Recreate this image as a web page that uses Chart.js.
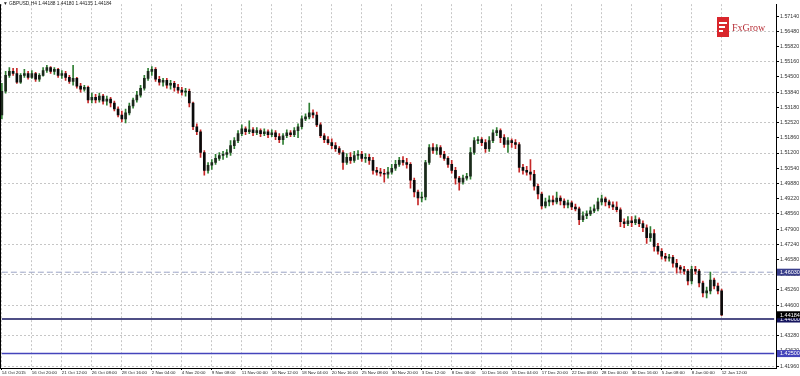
<!DOCTYPE html>
<html>
<head>
<meta charset="utf-8">
<script src="https://cdn.jsdelivr.net/npm/chart.js@4.4.0/dist/chart.umd.min.js"></script>
<style>
html,body{margin:0;padding:0;background:#fff;overflow:hidden}
#wrap{position:relative;width:800px;height:376px}
canvas{display:block}
#title{position:absolute;left:3px;top:1px;font:4.8px 'Liberation Sans',Arial,sans-serif;color:#222;white-space:nowrap}
#logoBox{position:absolute;left:717px;top:17px;width:12px;height:20px;background:#d9262c}
#logoBox i{position:absolute;left:2px;height:2px;background:#fff;display:block}
#logoText{position:absolute;left:732px;top:22px;font:10px 'Liberation Serif','DejaVu Serif',serif;color:#b8323a;white-space:nowrap}
</style>
</head>
<body>
<div id="wrap">
<canvas id="c" width="800" height="376"></canvas>
<div id="title">&#9660; GBPUSD,H4 1.44188 1.44180 1.44135 1.44184</div>
<div id="logoBox"><i style="top:5px;width:8px"></i><i style="top:9px;width:6px"></i><i style="top:13px;width:4px"></i></div>
<div id="logoText">FxGrow</div>
</div>
<script>
// ---- data ----
const tickLabels = ["14 Oct 2015","16 Oct 20:00","21 Oct 12:00","26 Oct 08:00","28 Oct 16:00","2 Nov 04:00","4 Nov 20:00","9 Nov 08:00","11 Nov 00:00","16 Nov 12:00","18 Nov 04:00","20 Nov 16:00","25 Nov 08:00","30 Nov 20:00","3 Dec 12:00","8 Dec 00:00","10 Dec 16:00","15 Dec 04:00","17 Dec 20:00","22 Dec 08:00","28 Dec 00:00","30 Dec 16:00","5 Jan 08:00","8 Jan 00:00","12 Jan 12:00"];

const yTicks = [1.5714,1.5648,1.5582,1.5516,1.5450,1.5384,1.5318,1.5252,1.5186,1.5120,1.5054,1.4988,1.4922,1.4856,1.4790,1.4724,1.4658,1.4592,1.4526,1.4460,1.4394,1.4328,1.4262,1.4196];

const levels = [1.4603, 1.4400, 1.4250];
const lastPrice = 1.44184;

const open = [
1.5285,1.5388,1.5457,1.5474,1.5465,1.5427,1.5457,1.5465,1.5448,1.5465,
1.5440,1.5457,1.5478,1.5491,1.5474,1.5483,1.5457,1.5465,1.5448,1.5431,
1.5444,1.5410,1.5397,1.5405,1.5350,1.5362,1.5350,1.5367,1.5345,1.5354,
1.5337,1.5311,1.5285,1.5268,1.5294,1.5324,1.5350,1.5371,1.5401,1.5444,
1.5474,1.5483,1.5440,1.5427,1.5435,1.5414,1.5422,1.5405,1.5393,1.5384,
1.5388,1.5337,1.5234,1.5212,1.5122,1.5045,1.5067,1.5079,1.5097,1.5109,
1.5114,1.5122,1.5152,1.5174,1.5204,1.5225,1.5212,1.5221,1.5208,1.5217,
1.5204,1.5212,1.5200,1.5208,1.5191,1.5178,1.5195,1.5208,1.5200,1.5217,
1.5234,1.5268,1.5277,1.5294,1.5285,1.5242,1.5195,1.5178,1.5165,1.5152,
1.5139,1.5122,1.5079,1.5101,1.5088,1.5109,1.5114,1.5097,1.5101,1.5088,
1.5045,1.5037,1.5032,1.5028,1.5037,1.5054,1.5071,1.5088,1.5079,1.5071,
1.5002,1.4951,1.4925,1.4929,1.5079,1.5144,1.5131,1.5144,1.5114,1.5097,
1.5071,1.5045,1.5011,1.4994,1.5011,1.5019,1.5122,1.5174,1.5178,1.5165,
1.5139,1.5174,1.5208,1.5217,1.5187,1.5157,1.5174,1.5165,1.5157,1.5058,
1.5045,1.5037,1.5028,1.4976,1.4942,1.4891,1.4908,1.4916,1.4908,1.4925,
1.4912,1.4895,1.4904,1.4886,1.4878,1.4831,1.4848,1.4856,1.4869,1.4878,
1.4908,1.4921,1.4908,1.4895,1.4886,1.4874,1.4822,1.4814,1.4826,1.4818,
1.4831,1.4814,1.4796,1.4753,1.4771,1.4715,1.4694,1.4672,1.4664,1.4668,
1.4642,1.4625,1.4616,1.4608,1.4565,1.4616,1.4608,1.4556,1.4513,1.4522,
1.4569,1.4543,1.4522];

const high = [
1.5422,1.5474,1.5491,1.5487,1.5487,1.5465,1.5483,1.5474,1.5478,1.5470,
1.5465,1.5491,1.5500,1.5495,1.5491,1.5487,1.5478,1.5474,1.5457,1.5500,
1.5448,1.5422,1.5414,1.5410,1.5380,1.5375,1.5380,1.5375,1.5367,1.5362,
1.5345,1.5320,1.5302,1.5311,1.5337,1.5358,1.5388,1.5414,1.5457,1.5487,
1.5495,1.5491,1.5453,1.5444,1.5444,1.5435,1.5431,1.5418,1.5405,1.5401,
1.5397,1.5341,1.5247,1.5221,1.5131,1.5079,1.5092,1.5114,1.5122,1.5127,
1.5135,1.5174,1.5187,1.5217,1.5242,1.5234,1.5260,1.5230,1.5230,1.5225,
1.5225,1.5221,1.5221,1.5217,1.5204,1.5204,1.5221,1.5217,1.5230,1.5247,
1.5281,1.5290,1.5337,1.5307,1.5298,1.5251,1.5204,1.5191,1.5182,1.5165,
1.5148,1.5131,1.5118,1.5122,1.5127,1.5131,1.5127,1.5118,1.5114,1.5101,
1.5058,1.5054,1.5049,1.5058,1.5071,1.5088,1.5101,1.5105,1.5097,1.5079,
1.5011,1.4959,1.4951,1.5088,1.5157,1.5161,1.5157,1.5152,1.5127,1.5105,
1.5088,1.5058,1.5019,1.5024,1.5032,1.5144,1.5187,1.5191,1.5187,1.5178,
1.5191,1.5221,1.5230,1.5225,1.5200,1.5187,1.5182,1.5178,1.5165,1.5071,
1.5062,1.5092,1.5045,1.4985,1.4951,1.4925,1.4934,1.4934,1.4951,1.4934,
1.4921,1.4916,1.4912,1.4899,1.4886,1.4865,1.4869,1.4886,1.4895,1.4925,
1.4938,1.4929,1.4916,1.4908,1.4908,1.4882,1.4835,1.4844,1.4844,1.4848,
1.4839,1.4826,1.4809,1.4801,1.4788,1.4728,1.4706,1.4685,1.4681,1.4676,
1.4659,1.4633,1.4629,1.4616,1.4629,1.4629,1.4616,1.4565,1.4539,1.4603,
1.4578,1.4556,1.4530];

const low = [
1.5268,1.5380,1.5448,1.5457,1.5422,1.5422,1.5448,1.5440,1.5444,1.5431,
1.5431,1.5453,1.5470,1.5465,1.5461,1.5448,1.5444,1.5435,1.5422,1.5414,
1.5401,1.5384,1.5388,1.5337,1.5337,1.5337,1.5341,1.5332,1.5328,1.5320,
1.5302,1.5277,1.5255,1.5251,1.5285,1.5315,1.5341,1.5362,1.5393,1.5435,
1.5457,1.5431,1.5414,1.5410,1.5401,1.5397,1.5388,1.5380,1.5371,1.5367,
1.5320,1.5221,1.5200,1.5101,1.5024,1.5032,1.5049,1.5071,1.5088,1.5092,
1.5101,1.5109,1.5139,1.5165,1.5195,1.5200,1.5204,1.5195,1.5200,1.5191,
1.5195,1.5187,1.5191,1.5178,1.5165,1.5157,1.5187,1.5191,1.5191,1.5187,
1.5225,1.5260,1.5268,1.5272,1.5234,1.5187,1.5165,1.5157,1.5139,1.5127,
1.5114,1.5049,1.5071,1.5075,1.5079,1.5092,1.5084,1.5079,1.5071,1.5028,
1.5024,1.5019,1.4994,1.5011,1.5028,1.5045,1.5062,1.5067,1.5054,1.4968,
1.4929,1.4895,1.4908,1.4916,1.5071,1.5118,1.5114,1.5101,1.5088,1.5058,
1.5032,1.4985,1.4959,1.4985,1.5002,1.5007,1.5114,1.5161,1.5152,1.5122,
1.5127,1.5165,1.5195,1.5165,1.5144,1.5122,1.5144,1.5139,1.5037,1.5028,
1.5024,1.5002,1.4959,1.4921,1.4878,1.4882,1.4891,1.4895,1.4899,1.4895,
1.4882,1.4882,1.4874,1.4869,1.4809,1.4822,1.4835,1.4848,1.4861,1.4869,
1.4895,1.4891,1.4882,1.4874,1.4865,1.4801,1.4796,1.4805,1.4801,1.4809,
1.4801,1.4779,1.4728,1.4736,1.4694,1.4681,1.4659,1.4651,1.4651,1.4625,
1.4599,1.4599,1.4595,1.4548,1.4552,1.4595,1.4539,1.4496,1.4492,1.4509,
1.4530,1.4509,1.4414];

const close = [
1.5388,1.5457,1.5474,1.5465,1.5427,1.5457,1.5465,1.5448,1.5465,1.5440,
1.5457,1.5478,1.5491,1.5474,1.5483,1.5457,1.5465,1.5448,1.5431,1.5444,
1.5410,1.5397,1.5405,1.5350,1.5362,1.5350,1.5367,1.5345,1.5354,1.5337,
1.5311,1.5285,1.5268,1.5294,1.5324,1.5350,1.5371,1.5401,1.5444,1.5474,
1.5483,1.5440,1.5427,1.5435,1.5414,1.5422,1.5405,1.5393,1.5384,1.5388,
1.5337,1.5234,1.5212,1.5122,1.5045,1.5067,1.5079,1.5097,1.5109,1.5114,
1.5122,1.5152,1.5174,1.5204,1.5225,1.5212,1.5221,1.5208,1.5217,1.5204,
1.5212,1.5200,1.5208,1.5191,1.5178,1.5195,1.5208,1.5200,1.5217,1.5234,
1.5268,1.5277,1.5294,1.5285,1.5242,1.5195,1.5178,1.5165,1.5152,1.5139,
1.5122,1.5079,1.5101,1.5088,1.5109,1.5114,1.5097,1.5101,1.5088,1.5045,
1.5037,1.5032,1.5028,1.5037,1.5054,1.5071,1.5088,1.5079,1.5071,1.5002,
1.4951,1.4925,1.4929,1.5079,1.5144,1.5131,1.5144,1.5114,1.5097,1.5071,
1.5045,1.5011,1.4994,1.5011,1.5019,1.5122,1.5174,1.5178,1.5165,1.5139,
1.5174,1.5208,1.5217,1.5187,1.5157,1.5174,1.5165,1.5157,1.5058,1.5045,
1.5037,1.5028,1.4976,1.4942,1.4891,1.4908,1.4916,1.4908,1.4925,1.4912,
1.4895,1.4904,1.4886,1.4878,1.4831,1.4848,1.4856,1.4869,1.4878,1.4908,
1.4921,1.4908,1.4895,1.4886,1.4874,1.4822,1.4814,1.4826,1.4818,1.4831,
1.4814,1.4796,1.4753,1.4771,1.4715,1.4694,1.4672,1.4664,1.4668,1.4642,
1.4625,1.4616,1.4608,1.4565,1.4616,1.4608,1.4556,1.4513,1.4522,1.4569,
1.4543,1.4522,1.4418];

// ---- layout / style ----
const BARS_PER_LABEL = 8;
const EMPTY_SLOTS = 14;
const nSlots = close.length + EMPTY_SLOTS;
const slots = Array.from({length: nSlots}, (_, i) => String(i));
const isLabelIdx = i => i % BARS_PER_LABEL === 0 && (i / BARS_PER_LABEL) < tickLabels.length;

const BULL = '#2e7d32', BEAR = '#c62828';
const up = close.map((c, i) => c >= open[i]);
const levelStyles = [
  {color: '#9aa2c4', width: 1, dash: [6, 3]},
  {color: '#14145e', width: 1.5, dash: []},
  {color: '#4444bb', width: 1.5, dash: []}
];
const FONT = "'Liberation Sans', Arial, sans-serif";

const overlay = {
  id: 'overlay',
  afterDraw(chart) {
    const {ctx, chartArea, scales: {y}} = chart;
    ctx.save();
    ctx.strokeStyle = '#000'; ctx.lineWidth = 1;
    ctx.beginPath(); ctx.moveTo(0.5, chartArea.top); ctx.lineTo(0.5, chartArea.bottom); ctx.stroke();
    const boxes = [
      {v: levels[0], bg: '#3a3f8c'},
      {v: levels[1], bg: '#14145e'},
      {v: lastPrice, bg: '#000000'},
      {v: levels[2], bg: '#4444bb'}
    ];
    ctx.font = '5.5px ' + FONT;
    ctx.textBaseline = 'middle';
    ctx.textAlign = 'left';
    boxes.forEach(b => {
      const py = y.getPixelForValue(b.v);
      ctx.fillStyle = b.bg;
      ctx.fillRect(chartArea.right + 1, py - 3.5, 23, 7);
      ctx.fillStyle = '#fff';
      ctx.fillText(b.v.toFixed(5), chartArea.right + 4, py + 0.3);
    });
    ctx.restore();
  }
};

const datasets = [
  {
    type: 'bar', label: 'body',
    data: open.map((o, i) => [o, close[i]]),
    backgroundColor: up.map(u => u ? '#1c2a1c' : '#0a0a0a'),
    barThickness: 2, minBarLength: 1, grouped: false, order: 0
  },
  {
    type: 'bar', label: 'wick',
    data: low.map((l, i) => [l, high[i]]),
    backgroundColor: up.map(u => u ? BULL : BEAR),
    barThickness: 1, grouped: false, order: 1
  }
].concat(levels.map((lv, k) => ({
  type: 'line', label: 'level' + k,
  data: slots.map(() => lv),
  borderColor: levelStyles[k].color,
  borderWidth: levelStyles[k].width,
  borderDash: levelStyles[k].dash,
  pointRadius: 0, fill: false, order: 2
})));

new Chart(document.getElementById('c'), {
  type: 'bar',
  data: {labels: slots, datasets},
  options: {
    responsive: false,
    animation: false,
    devicePixelRatio: 1,
    layout: {padding: 0},
    plugins: {legend: {display: false}, tooltip: {enabled: false}, title: {display: false}},
    scales: {
      x: {
        type: 'category',
        offset: true,
        grid: {
          offset: false,
          color: c => isLabelIdx(c.index) ? '#c6c6c6' : 'rgba(0,0,0,0)',
          lineWidth: 1,
          drawTicks: true,
          tickLength: 2,
          tickColor: c => isLabelIdx(c.index) ? '#000' : 'rgba(0,0,0,0)'
        },
        border: {color: '#000', width: 1, dash: [2, 2]},
        ticks: {
          autoSkip: false, maxRotation: 0, minRotation: 0, align: 'start', padding: 0,
          font: {family: FONT, size: 4.4}, color: '#222',
          callback: (v, i) => isLabelIdx(i) ? tickLabels[i / BARS_PER_LABEL] : ''
        },
        afterFit: s => { s.height = 8; }
      },
      y: {
        type: 'linear',
        position: 'right',
        min: 1.41875, max: 1.57655,
        afterBuildTicks: s => { s.ticks = yTicks.slice().sort((a, b) => a - b).map(v => ({value: v})); },
        grid: {
          color: c => c.index % 2 === 0 ? '#c6c6c6' : 'rgba(0,0,0,0)',
          lineWidth: 1,
          drawTicks: true,
          tickLength: 3,
          tickColor: '#000'
        },
        border: {color: '#000', width: 1, dash: [2, 2]},
        ticks: {
          autoSkip: false, padding: 1,
          font: {family: FONT, size: 5.3}, color: '#333',
          callback: v => Number(v).toFixed(5)
        },
        afterFit: s => { s.width = 24; }
      }
    }
  },
  plugins: [overlay]
});
</script>
</body>
</html>
